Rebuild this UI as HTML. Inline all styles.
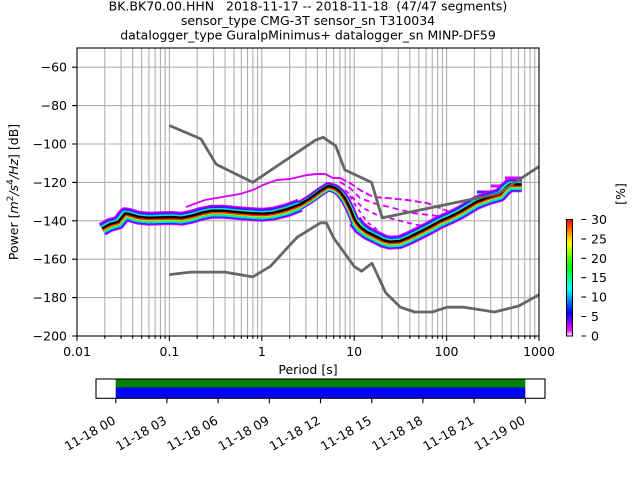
<!DOCTYPE html>
<html>
<head>
<meta charset="utf-8">
<style>
html,body{margin:0;padding:0;background:#fff;}
svg{display:block;}
text{font-family:"DejaVu Sans","Liberation Sans",sans-serif;font-size:12.5px;fill:#000;}
</style>
</head>
<body>
<svg width="640" height="480" viewBox="0 0 640 480" xmlns="http://www.w3.org/2000/svg">
<defs>
<linearGradient id="pqlx" x1="0" y1="1" x2="0" y2="0">
<stop offset="0" stop-color="#ffffff"/>
<stop offset="0.05" stop-color="#ff00ff"/>
<stop offset="0.2" stop-color="#0000ff"/>
<stop offset="0.4" stop-color="#00ffff"/>
<stop offset="0.6" stop-color="#00ff00"/>
<stop offset="0.8" stop-color="#ffff00"/>
<stop offset="1" stop-color="#ff0000"/>
</linearGradient>
<clipPath id="ax"><rect x="77" y="48" width="462" height="288"/></clipPath>
</defs>
<rect width="640" height="480" fill="#fff"/>

<!-- Title -->
<text x="308" y="10.5" text-anchor="middle" style="white-space:pre">BK.BK70.00.HHN   2018-11-17 -- 2018-11-18  (47/47 segments)</text>
<text x="308" y="25" text-anchor="middle">sensor_type CMG-3T sensor_sn T310034</text>
<text x="308" y="39.5" text-anchor="middle">datalogger_type GuralpMinimus+ datalogger_sn MINP-DF59</text>

<!-- Grid -->
<g stroke="#b0b0b0" stroke-width="1.1">
<path d="M104.81 48V336M121.09 48V336M132.63 48V336M141.59 48V336M148.9 48V336M155.09 48V336M160.45 48V336M165.17 48V336M169.4 48V336
M197.21 48V336M213.49 48V336M225.03 48V336M233.99 48V336M241.3 48V336M247.49 48V336M252.85 48V336M257.57 48V336M261.8 48V336
M289.61 48V336M305.89 48V336M317.43 48V336M326.39 48V336M333.7 48V336M339.89 48V336M345.25 48V336M349.97 48V336M354.2 48V336
M382.01 48V336M398.29 48V336M409.83 48V336M418.79 48V336M426.1 48V336M432.29 48V336M437.65 48V336M442.37 48V336M446.6 48V336
M474.41 48V336M490.69 48V336M502.23 48V336M511.19 48V336M518.5 48V336M524.69 48V336M530.05 48V336M534.77 48V336"/>
<path d="M77 67.2H539M77 105.6H539M77 144H539M77 182.4H539M77 220.8H539M77 259.2H539M77 297.6H539"/>
</g>

<g clip-path="url(#ax)">
<!-- Outlier streaks -->
<g fill="none" stroke="#dc00ff" stroke-width="1.9" stroke-linejoin="round">
<polyline points="186,207 205,200 222,197 240,194 253,190 263,185 277,180 290,179 307,175 317,174 325,174 333,178 340,178"/>
<polyline stroke-dasharray="7 3" points="340,178 350,183 360,190 373,197 387,198 407,200 427,203 440,208 450,212"/>
<polyline stroke-dasharray="6 4" points="340,182 350,188 360,198 373,203 393,208 413,213 430,215 445,217"/>
<polyline stroke-dasharray="5 4" points="345,190 353,198 363,208 377,215 397,220 417,225 430,226"/>
<polyline stroke-dasharray="4 4" points="350,196 356,206 367,222 380,232"/>
</g>
<rect x="505" y="176.5" width="17" height="4.5" fill="#dc00ff"/>
<rect x="491" y="184.5" width="14" height="3" fill="#dc00ff"/>
<rect x="477" y="190.5" width="14" height="3" fill="#7a00ff"/>
<rect x="506" y="181" width="16" height="3" fill="#00ffb0"/>
<rect x="478" y="193" width="12" height="3" fill="#00e0ff"/>

<!-- PPSD band -->
<g fill="none" stroke-linejoin="round" transform="translate(0,1)">
<g stroke="#dc00ff">
<polyline stroke-width="14" points="102.3,228.3 110,224 118.3,221.7 125,213.3 128.3,213.7 138.3,216.7 148.3,217.7 161.7,217.3 171.7,217 181.7,217.7 191.7,215.7 201.7,212.7 211.7,210.7 223.3,210.7 240,212.3 253.3,213.3 263.3,213.7 273.3,212.7 286.7,209.3 300,204.3"/>
<polyline stroke-width="9.5" points="286.7,209.3 300,204.3 310,198.3 320,191 328.3,185.7 335,187.7 340,191.5 345,198.3 350,208 355,220 360,226.7"/>
<polyline stroke-width="14" points="355,220 360,226.7 366.7,231.7 373.3,235 383.3,240 390,241.7 400,241 410,236.7 420,231.7 430,226.7 440,221 450,216.7 460,211.7 470,205.7 476.7,201.7 490,196.7 500,194 505,188.3 510,184.3 521.7,184.3"/>
</g>
<g stroke="#7a00ff">
<polyline stroke-width="12" points="102.3,228.3 110,224 118.3,221.7 125,213.3 128.3,213.7 138.3,216.7 148.3,217.7 161.7,217.3 171.7,217 181.7,217.7 191.7,215.7 201.7,212.7 211.7,210.7 223.3,210.7 240,212.3 253.3,213.3 263.3,213.7 273.3,212.7 286.7,209.3 300,204.3"/>
<polyline stroke-width="8.2" points="286.7,209.3 300,204.3 310,198.3 320,191 328.3,185.7 335,187.7 340,191.5 345,198.3 350,208 355,220 360,226.7"/>
<polyline stroke-width="12" points="355,220 360,226.7 366.7,231.7 373.3,235 383.3,240 390,241.7 400,241 410,236.7 420,231.7 430,226.7 440,221 450,216.7 460,211.7 470,205.7 476.7,201.7 490,196.7 500,194 505,188.3 510,184.3 521.7,184.3"/>
</g>
<g stroke="#1a2aff" transform="translate(0,0.5)">
<polyline stroke-width="10.5" points="102.3,228.3 110,224 118.3,221.7 125,213.3 128.3,213.7 138.3,216.7 148.3,217.7 161.7,217.3 171.7,217 181.7,217.7 191.7,215.7 201.7,212.7 211.7,210.7 223.3,210.7 240,212.3 253.3,213.3 263.3,213.7 273.3,212.7 286.7,209.3 300,204.3"/>
<polyline stroke-width="7.3" points="286.7,209.3 300,204.3 310,198.3 320,191 328.3,185.7 335,187.7 340,191.5 345,198.3 350,208 355,220 360,226.7"/>
<polyline stroke-width="10.5" points="355,220 360,226.7 366.7,231.7 373.3,235 383.3,240 390,241.7 400,241 410,236.7 420,231.7 430,226.7 440,221 450,216.7 460,211.7 470,205.7 476.7,201.7 490,196.7 500,194 505,188.3 510,184.3 521.7,184.3"/>
</g>
<g stroke="#00dcff" transform="translate(0,0.5)">
<polyline stroke-width="8.5" points="102.3,228.3 110,224 118.3,221.7 125,213.3 128.3,213.7 138.3,216.7 148.3,217.7 161.7,217.3 171.7,217 181.7,217.7 191.7,215.7 201.7,212.7 211.7,210.7 223.3,210.7 240,212.3 253.3,213.3 263.3,213.7 273.3,212.7 286.7,209.3 300,204.3"/>
<polyline stroke-width="6.2" points="286.7,209.3 300,204.3 310,198.3 320,191 328.3,185.7 335,187.7 340,191.5 345,198.3 350,208 355,220 360,226.7"/>
<polyline stroke-width="8.5" points="355,220 360,226.7 366.7,231.7 373.3,235 383.3,240 390,241.7 400,241 410,236.7 420,231.7 430,226.7 440,221 450,216.7 460,211.7 470,205.7 476.7,201.7 490,196.7 500,194 505,188.3 510,184.3 521.7,184.3"/>
</g>
<g stroke="#22ff3a" transform="translate(0,0.5)">
<polyline stroke-width="6" points="102.3,228.3 110,224 118.3,221.7 125,213.3 128.3,213.7 138.3,216.7 148.3,217.7 161.7,217.3 171.7,217 181.7,217.7 191.7,215.7 201.7,212.7 211.7,210.7 223.3,210.7 240,212.3 253.3,213.3 263.3,213.7 273.3,212.7 286.7,209.3 300,204.3"/>
<polyline stroke-width="5" points="286.7,209.3 300,204.3 310,198.3 320,191 328.3,185.7 335,187.7 340,191.5 345,198.3 350,208 355,220 360,226.7"/>
<polyline stroke-width="6" points="355,220 360,226.7 366.7,231.7 373.3,235 383.3,240 390,241.7 400,241 410,236.7 420,231.7 430,226.7 440,221 450,216.7 460,211.7 470,205.7 476.7,201.7 490,196.7 500,194 505,188.3 510,184.3 521.7,184.3"/>
</g>
<g stroke="#ffe600">
<polyline stroke-width="4.5" points="102.3,228.3 110,224 118.3,221.7 125,213.3 128.3,213.7 138.3,216.7 148.3,217.7 161.7,217.3 171.7,217 181.7,217.7 191.7,215.7 201.7,212.7 211.7,210.7 223.3,210.7 240,212.3 253.3,213.3 263.3,213.7 273.3,212.7 286.7,209.3 300,204.3"/>
<polyline stroke-width="4" points="286.7,209.3 300,204.3 310,198.3 320,191 328.3,185.7 335,187.7 340,191.5 345,198.3 350,208 355,220 360,226.7"/>
<polyline stroke-width="4.5" points="355,220 360,226.7 366.7,231.7 373.3,235 383.3,240 390,241.7 400,241 410,236.7 420,231.7 430,226.7 440,221 450,216.7 460,211.7 470,205.7 476.7,201.7 490,196.7 500,194 505,188.3 510,184.3 521.7,184.3"/>
</g>
<g stroke="#ff2a00">
<polyline stroke-width="3.4" points="102.3,228.3 110,224 118.3,221.7 125,213.3 128.3,213.7 138.3,216.7 148.3,217.7 161.7,217.3 171.7,217 181.7,217.7 191.7,215.7 201.7,212.7 211.7,210.7 223.3,210.7 240,212.3 253.3,213.3 263.3,213.7 273.3,212.7 286.7,209.3 300,204.3 310,198.3 320,191 328.3,185.7 335,187.7 340,191.5 345,198.3 350,208 355,220 360,226.7 366.7,231.7 373.3,235 383.3,240 390,241.7 400,241 410,236.7 420,231.7 430,226.7 440,221 450,216.7 460,211.7 470,205.7 476.7,201.7 490,196.7 500,194 505,188.3 510,184.3 521.7,184.3"/>
</g>
</g>
<!-- mean line -->
<polyline fill="none" stroke="#000" stroke-width="2.4" stroke-linejoin="round" points="102.3,228.3 110,224 118.3,221.7 125,213.3 128.3,213.7 138.3,216.7 148.3,217.7 161.7,217.3 171.7,217 181.7,217.7 191.7,215.7 201.7,212.7 211.7,210.7 223.3,210.7 240,212.3 253.3,213.3 263.3,213.7 273.3,212.7 286.7,209.3 300,204.3 310,198.3 320,191 328.3,185.7 335,187.7 340,191.5 345,198.3 350,208 355,220 360,226.7 366.7,231.7 373.3,235 383.3,240 390,241.7 400,241 410,236.7 420,231.7 430,226.7 440,221 450,216.7 460,211.7 470,205.7 476.7,201.7 490,196.7 500,194 505,188.3 510,184.3 521.7,184.3"/>

<!-- Noise models -->
<g fill="none" stroke="#666666" stroke-width="2.8" stroke-linejoin="round">
<polyline points="169.4,125.5 201,139 216.1,164.2 252.8,182.4 315.4,140.2 323.1,137.3 335.7,145.9 344.8,169.9 371.6,182.4 382.1,217.9 497.6,193.9 539,166.6"/>
<polyline points="169.4,274.6 190.7,272.1 225,272.1 252.8,276.9 270.4,266.3 296.9,237.4 320.3,222.9 326.4,222.9 333.7,238.1 354.2,266.4 361.5,271.2 372,263.2 385.7,292.8 400.4,307.2 414.6,312 432.4,312 447.1,307.2 464.1,307.2 494.4,312 518.7,306 539,294.7"/>
</g>
</g>

<!-- Axes frame -->
<rect x="77" y="48" width="462" height="288" fill="none" stroke="#000" stroke-width="1.1"/>

<!-- Ticks -->
<g stroke="#000" stroke-width="1.1">
<path d="M77 336v4.9M169.4 336v4.9M261.8 336v4.9M354.2 336v4.9M446.6 336v4.9M539 336v4.9"/>
<path d="M104.81 336v2.8M121.09 336v2.8M132.63 336v2.8M141.59 336v2.8M148.9 336v2.8M155.09 336v2.8M160.45 336v2.8M165.17 336v2.8
M197.21 336v2.8M213.49 336v2.8M225.03 336v2.8M233.99 336v2.8M241.3 336v2.8M247.49 336v2.8M252.85 336v2.8M257.57 336v2.8
M289.61 336v2.8M305.89 336v2.8M317.43 336v2.8M326.39 336v2.8M333.7 336v2.8M339.89 336v2.8M345.25 336v2.8M349.97 336v2.8
M382.01 336v2.8M398.29 336v2.8M409.83 336v2.8M418.79 336v2.8M426.1 336v2.8M432.29 336v2.8M437.65 336v2.8M442.37 336v2.8
M474.41 336v2.8M490.69 336v2.8M502.23 336v2.8M511.19 336v2.8M518.5 336v2.8M524.69 336v2.8M530.05 336v2.8M534.77 336v2.8"/>
<path d="M72.1 67.2H77M72.1 105.6H77M72.1 144H77M72.1 182.4H77M72.1 220.8H77M72.1 259.2H77M72.1 297.6H77M72.1 336H77"/>
</g>

<!-- Y tick labels -->
<g text-anchor="end">
<text x="67" y="71.7">−60</text>
<text x="67" y="110.1">−80</text>
<text x="67" y="148.5">−100</text>
<text x="67" y="186.9">−120</text>
<text x="67" y="225.3">−140</text>
<text x="67" y="263.7">−160</text>
<text x="67" y="302.1">−180</text>
<text x="67" y="340.5">−200</text>
</g>
<!-- X tick labels -->
<g text-anchor="middle">
<text x="77" y="356">0.01</text>
<text x="169.4" y="356">0.1</text>
<text x="261.8" y="356">1</text>
<text x="354.2" y="356">10</text>
<text x="446.6" y="356">100</text>
<text x="539" y="356">1000</text>
</g>
<text x="308" y="374" text-anchor="middle">Period [s]</text>
<text transform="translate(18,192) rotate(-90)" text-anchor="middle">Power [<tspan font-style="italic">m</tspan><tspan font-size="9px" dy="-5">2</tspan><tspan dy="5" font-style="italic">/s</tspan><tspan font-size="9px" dy="-5">4</tspan><tspan dy="5" font-style="italic">/Hz</tspan>] [dB]</text>

<!-- Colorbar -->
<rect x="566.5" y="219.5" width="6" height="116.5" fill="url(#pqlx)" stroke="#000" stroke-width="1"/>
<g stroke="#000" stroke-width="1.1">
<path d="M581.5 219.5h4.5M581.5 238.9h4.5M581.5 258.3h4.5M581.5 277.7h4.5M581.5 297.1h4.5M581.5 316.5h4.5M581.5 336h4.5"/>
</g>
<g>
<text x="591" y="224">30</text>
<text x="591" y="243.4">25</text>
<text x="591" y="262.8">20</text>
<text x="591" y="282.2">15</text>
<text x="591" y="301.6">10</text>
<text x="591" y="321">5</text>
<text x="591" y="340.5">0</text>
</g>
<text transform="translate(625,194) rotate(-90)" text-anchor="middle">[%]</text>

<!-- Timeline -->
<rect x="115.7" y="379.5" width="409.6" height="8" fill="#008000"/>
<rect x="115.7" y="387.5" width="409.6" height="10.5" fill="#0000ff"/>
<rect x="96" y="379" width="449" height="19.3" fill="none" stroke="#000" stroke-width="1.1"/>
<g stroke="#000" stroke-width="1.1">
<path d="M115.7 398.3v4.9M166.9 398.3v4.9M218.1 398.3v4.9M269.3 398.3v4.9M320.5 398.3v4.9M371.7 398.3v4.9M422.9 398.3v4.9M474.1 398.3v4.9M525.3 398.3v4.9"/>
</g>
<g text-anchor="end">
<text transform="translate(116.5,423) rotate(-30)">11-18 00</text>
<text transform="translate(167.7,423) rotate(-30)">11-18 03</text>
<text transform="translate(218.9,423) rotate(-30)">11-18 06</text>
<text transform="translate(270.1,423) rotate(-30)">11-18 09</text>
<text transform="translate(321.3,423) rotate(-30)">11-18 12</text>
<text transform="translate(372.5,423) rotate(-30)">11-18 15</text>
<text transform="translate(423.7,423) rotate(-30)">11-18 18</text>
<text transform="translate(474.9,423) rotate(-30)">11-18 21</text>
<text transform="translate(526.1,423) rotate(-30)">11-19 00</text>
</g>
</svg>
</body>
</html>
